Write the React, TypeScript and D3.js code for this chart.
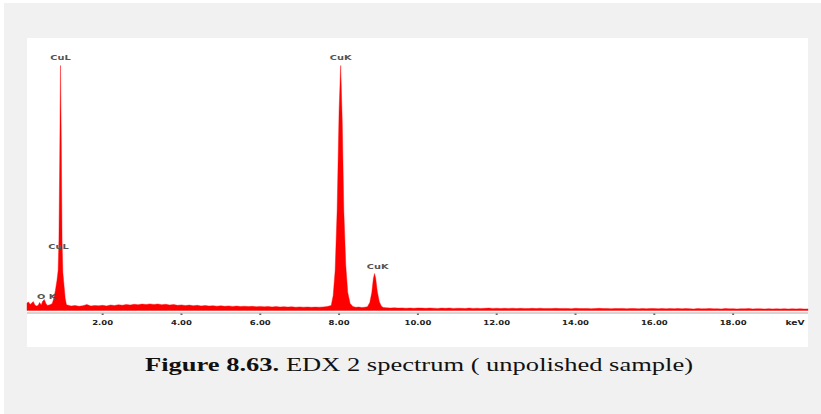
import React from "react";
import * as d3 from "d3";

// ---- Data ----
const peakKeV = [
  0.08, 0.12, 0.16, 0.2, 0.24, 0.28, 0.32, 0.36, 0.4, 0.44, 0.48, 0.52, 0.56, 0.6, 0.64, 0.68, 0.72, 0.76,
  0.8, 0.84, 0.87, 0.89, 0.91, 0.93, 0.95, 0.97, 0.99, 1.02, 1.05, 1.08,
];
const peakCounts = [
  75, 85, 60, 75, 90, 55, 45, 50, 80, 55, 95, 110, 70, 50, 55, 60, 70, 120,
  200, 300, 400, 700, 1500, 2450, 1700, 700, 380, 250, 120, 60,
];

const midKeV = [
  1.1, 1.2, 1.3, 1.4, 1.5, 1.6, 1.7, 1.8, 1.9, 2.0, 2.1, 2.2, 2.3, 2.4, 2.5, 2.6, 2.7, 2.8, 2.9, 3.0,
  3.1, 3.2, 3.3, 3.4, 3.5, 3.6, 3.7, 3.8, 3.9, 4.0, 4.1, 4.2, 4.3, 4.4, 4.5, 4.6, 4.7, 4.8, 4.9, 5.0,
  5.1, 5.2, 5.3, 5.4, 5.5, 5.6, 5.7, 5.8, 5.9, 6.0, 6.1, 6.2, 6.3, 6.4, 6.5, 6.6, 6.7, 6.8, 6.9, 7.0,
  7.1, 7.2, 7.3, 7.4, 7.5, 7.6, 7.7,
];
const midCounts = [
  55, 45, 50, 42, 48, 60, 45, 50, 47, 52, 46, 55, 50, 58, 53, 60, 55, 62, 58, 64,
  60, 66, 60, 65, 58, 62, 55, 60, 52, 56, 50, 54, 48, 52, 46, 50, 45, 48, 43, 47,
  42, 46, 41, 44, 40, 43, 39, 42, 38, 41, 37, 40, 36, 39, 35, 38, 34, 37, 33, 36,
  33, 35, 32, 34, 33, 36, 40,
];

const cuKKeV = [
  7.8, 7.85, 7.9, 7.95, 8.0, 8.04, 8.08, 8.12, 8.17, 8.22, 8.28, 8.35, 8.42, 8.5, 8.58, 8.65,
  8.72, 8.78, 8.83, 8.87, 8.9, 8.93, 8.97, 9.02, 9.07, 9.12,
];
const cuKCounts = [
  50, 150, 400, 1000, 2000, 2450, 1900, 1000, 450, 180, 70, 40, 32, 35, 30, 33,
  38, 80, 180, 320, 370, 320, 190, 90, 45, 30,
];

const highKeV = [
  9.2, 9.3, 9.4, 9.5, 9.6, 9.7, 9.8, 9.9, 10.0, 10.1, 10.2, 10.3, 10.4, 10.5, 10.6, 10.7, 10.8, 10.9,
  11.0, 11.1, 11.2, 11.3, 11.4, 11.5, 11.6, 11.7, 11.8, 11.9, 12.0, 12.1, 12.2, 12.3, 12.4, 12.5, 12.6,
  12.7, 12.8, 12.9, 13.0, 13.1, 13.2, 13.3, 13.4, 13.5, 13.6, 13.7, 13.8, 13.9, 14.0, 14.1, 14.2, 14.3,
  14.4, 14.5, 14.6, 14.7, 14.8, 14.9, 15.0, 15.1, 15.2, 15.3, 15.4, 15.5, 15.6, 15.7, 15.8, 15.9, 16.0,
  16.1, 16.2, 16.3, 16.4, 16.5, 16.6, 16.7, 16.8, 16.9, 17.0, 17.1, 17.2, 17.3, 17.4, 17.5, 17.6, 17.7,
  17.8, 17.9, 18.0, 18.1, 18.2, 18.3, 18.4, 18.5, 18.6, 18.7, 18.8, 18.9, 19.0, 19.1, 19.2, 19.3, 19.4,
  19.5, 19.6, 19.7, 19.8, 19.9,
];
const highCounts = [
  28, 25, 27, 24, 26, 23, 25, 22, 26, 24, 22, 25, 23, 21, 24, 22, 25, 21,
  23, 22, 20, 24, 21, 23, 20, 22, 24, 21, 23, 20, 22, 21, 23, 20, 22,
  21, 19, 22, 20, 23, 19, 21, 20, 22, 19, 21, 20, 18, 22, 20, 19, 21,
  18, 20, 22, 19, 21, 18, 20, 19, 21, 18, 20, 19, 17, 20, 18, 21, 19,
  18, 20, 17, 19, 18, 20, 17, 19, 18, 16, 19, 17, 18, 20, 17, 18, 16,
  19, 17, 18, 16, 18, 17, 19, 16, 18, 17, 15, 18, 16, 17, 16, 18, 15,
  17, 16, 18, 15, 16,
];

const tickValues = [2, 4, 6, 8, 10, 12, 14, 16, 18];
const peakLabels = [
  { text: "CuL", keV: 0.93, counts: 2510 },
  { text: "CuL", keV: 0.88, counts: 620 },
  { text: "O K", keV: 0.58, counts: 115 },
  { text: "CuK", keV: 8.04, counts: 2510 },
  { text: "CuK", keV: 8.98, counts: 420 },
];

const energies = [...peakKeV, ...midKeV, ...cuKKeV, ...highKeV];
const counts = [...peakCounts, ...midCounts, ...cuKCounts, ...highCounts];
const spectrum = energies.map((e, i) => ({ e, c: counts[i] }));

function StretchText(props: {
  x: number;
  y: number;
  sx: number;
  children: React.ReactNode;
  [k: string]: any;
}) {
  const { x, y, sx, children, ...rest } = props;
  return (
    <text transform={`translate(${x},${y}) scale(${sx},1)`} x={0} y={0} textAnchor="middle" {...rest}>
      {children}
    </text>
  );
}

export default function App() {
  const W = 821;
  const H = 414;
  const x = d3.scaleLinear().domain([0.08, 19.9]).range([27, 808]);
  const y = d3.scaleLinear().domain([0, 2500]).range([310.5, 60.5]);
  const area = d3
    .area<{ e: number; c: number }>()
    .x((d) => x(d.e))
    .y0(y(0))
    .y1((d) => y(d.c));
  const axisY = 313;
  const labelFont = "DejaVu Sans, Verdana, sans-serif";

  return (
    <div style={{ position: "absolute", left: 0, top: 0 }}>
      <svg width={W} height={H} style={{ display: "block" }}>
        <rect x={0} y={0} width={W} height={H} fill="#ffffff" />
        <rect x={4} y={3} width={W - 4} height={H - 3} fill="#f1f1f1" />
        <rect x={27} y={38} width={781} height={309} fill="#ffffff" />
        <path d={area(spectrum) || ""} fill="#ff0000" stroke="#ff0000" strokeWidth={0.4} />
        <line x1={27} x2={808} y1={axisY} y2={axisY} stroke="#a9a9a9" strokeWidth={1.2} />
        {tickValues.map((t) => (
          <g key={t}>
            <rect x={x(t) - 1} y={axisY + 0.5} width={2} height={1.5} fill="#666" />
            <StretchText
              x={x(t)}
              y={axisY + 12}
              sx={1.25}
              fontFamily={labelFont}
              fontWeight="bold"
              fontSize={6.8}
              fill="#222"
            >
              {t.toFixed(2)}
            </StretchText>
          </g>
        ))}
        <StretchText x={795} y={axisY + 12} sx={1.3} fontFamily={labelFont} fontWeight="bold" fontSize={7} fill="#222">
          keV
        </StretchText>
        {peakLabels.map((p, i) => (
          <StretchText
            key={i}
            x={x(p.keV)}
            y={y(p.counts)}
            sx={1.4}
            fontFamily={labelFont}
            fontWeight="bold"
            fontSize={7}
            fill="#555"
          >
            {p.text}
          </StretchText>
        ))}
        <StretchText
          x={419}
          y={371}
          sx={1.36}
          fontFamily="Liberation Serif, Times New Roman, serif"
          fontSize={19.5}
          fill="#111"
        >
          <tspan fontWeight="bold">Figure 8.63.</tspan>
          <tspan> EDX 2 spectrum ( unpolished sample)</tspan>
        </StretchText>
      </svg>
    </div>
  );
}
